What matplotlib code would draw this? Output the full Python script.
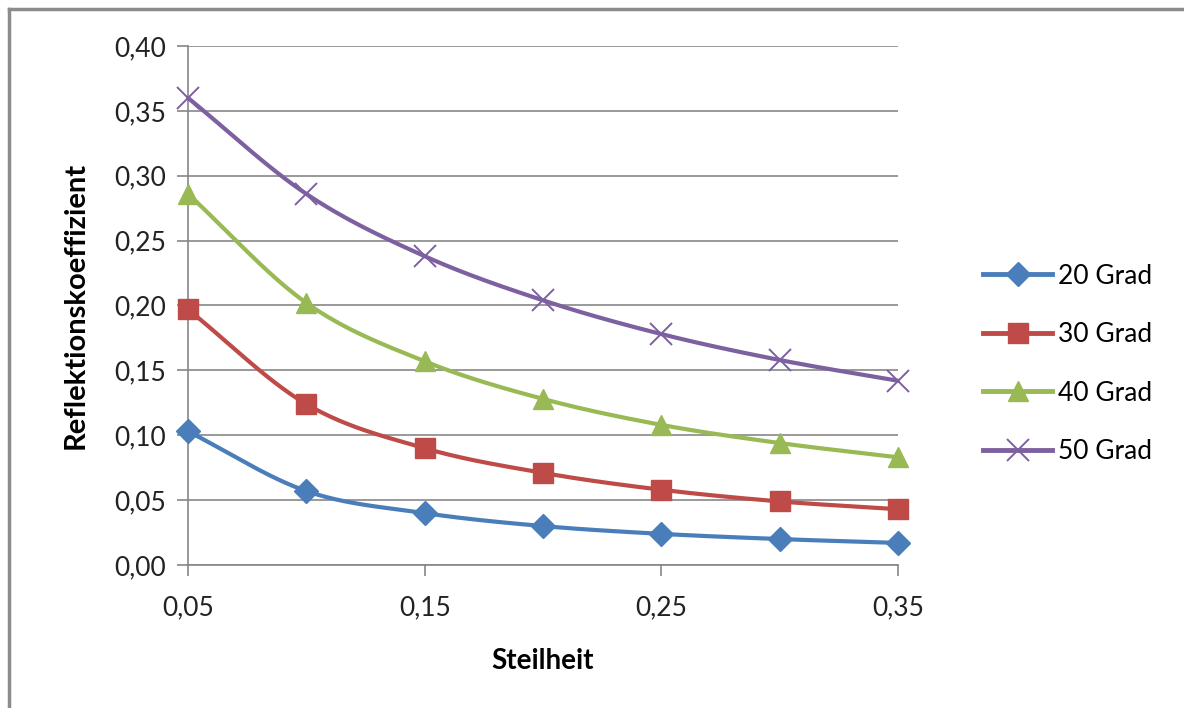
import numpy as np
import matplotlib.pyplot as plt
from matplotlib.lines import Line2D

plt.rcParams['font.family'] = ['Lato', 'DejaVu Sans']

steilheit = [0.05, 0.10, 0.15, 0.20, 0.25, 0.30, 0.35]
grad20 = [0.103, 0.057, 0.040, 0.030, 0.024, 0.020, 0.017]
grad30 = [0.197, 0.124, 0.090, 0.071, 0.058, 0.049, 0.043]
grad40 = [0.286, 0.202, 0.157, 0.128, 0.108, 0.094, 0.083]
grad50 = [0.360, 0.286, 0.238, 0.204, 0.178, 0.158, 0.142]
labels = ['20 Grad', '30 Grad', '40 Grad', '50 Grad']
y_ticks = [0.0, 0.05, 0.10, 0.15, 0.20, 0.25, 0.30, 0.35, 0.40]
x_ticks = [0.05, 0.15, 0.25, 0.35]


def smooth(x, y, n=30):
    # catmull-rom through the points, like excel's smoothed lines
    x = np.asarray(x, float)
    y = np.asarray(y, float)
    px = np.concatenate([[2 * x[0] - x[1]], x, [2 * x[-1] - x[-2]]])
    py = np.concatenate([[2 * y[0] - y[1]], y, [2 * y[-1] - y[-2]]])
    xs, ys = [], []
    t = np.linspace(0, 1, n)
    for i in range(1, len(px) - 2):
        for p, out in ((px, xs), (py, ys)):
            p0, p1, p2, p3 = p[i - 1], p[i], p[i + 1], p[i + 2]
            out.extend(0.5 * (2 * p1 + (-p0 + p2) * t
                              + (2 * p0 - 5 * p1 + 4 * p2 - p3) * t ** 2
                              + (-p0 + 3 * p1 - 3 * p2 + p3) * t ** 3))
    return xs, ys


fig = plt.figure(figsize=(11.84, 7.08), dpi=100)
ax = fig.add_axes([188 / 1184, 1 - 565 / 708, 710 / 1184, 519 / 708])

series = [grad20, grad30, grad40, grad50]
colors = ['#4A7EBB', '#BE4B48', '#98B954', '#7D60A0']
markers = ['D', 's', '^', 'x']
msizes = [12, 14, 15, 16]

handles = []
for vals, c, m, ms, lab in zip(series, colors, markers, msizes, labels):
    sx, sy = smooth(steilheit, vals)
    ax.plot(sx, sy, color=c, lw=3, solid_capstyle='round', zorder=3, clip_on=False)
    if m == 'x':
        ax.plot(steilheit, vals, ls='none', marker=m, ms=ms, mew=1.4, color=c,
                zorder=4, clip_on=False)
    else:
        ax.plot(steilheit, vals, ls='none', marker=m, ms=ms, color=c, mec=c,
                zorder=4, clip_on=False)
    handles.append(Line2D([], [], color=c, lw=3.5, marker=m, ms=ms,
                          mew=1.4 if m == 'x' else 1, mec=c, label=lab))

ax.set_xlim(0.05, 0.35)
ax.set_ylim(0, 0.40)
ax.set_yticks(y_ticks)
ax.set_yticklabels([f'{v:.2f}'.replace('.', ',') for v in y_ticks])
ax.set_xticks(x_ticks)
ax.set_xticklabels([f'{v:.2f}'.replace('.', ',') for v in x_ticks])
ax.tick_params(labelsize=19, colors='#868686', labelcolor='#222222', length=8, width=1.2)
ax.tick_params(axis='y', pad=8)
ax.tick_params(axis='x', pad=14)
ax.yaxis.grid(True, color='#878787', lw=1.2)
ax.set_axisbelow(True)
for s in ['top', 'right']:
    ax.spines[s].set_visible(False)
for s in ['left', 'bottom']:
    ax.spines[s].set_color('#868686')
    ax.spines[s].set_linewidth(1.2)

ax.set_xlabel('Steilheit', fontsize=20, fontweight='bold', labelpad=20)
ax.set_ylabel('Reflektionskoeffizient', fontsize=21, fontweight='bold', labelpad=18)

fig.legend(handles=handles, loc='upper left', bbox_to_anchor=(972 / 1184, 1 - 253 / 708),
           frameon=False, fontsize=19, handlelength=2.65, labelspacing=1.27,
           handletextpad=0.2, borderaxespad=0)

# outer chart frame (cropped screenshot: only top and left edges visible)
fig.add_artist(Line2D([9 / 1184, 9 / 1184], [0, 1 - 9 / 708], color='#8C8C8C', lw=2.5))
fig.add_artist(Line2D([9 / 1184, 1], [1 - 9 / 708, 1 - 9 / 708], color='#8C8C8C', lw=2.5))

fig.savefig('out.png', dpi=100)
